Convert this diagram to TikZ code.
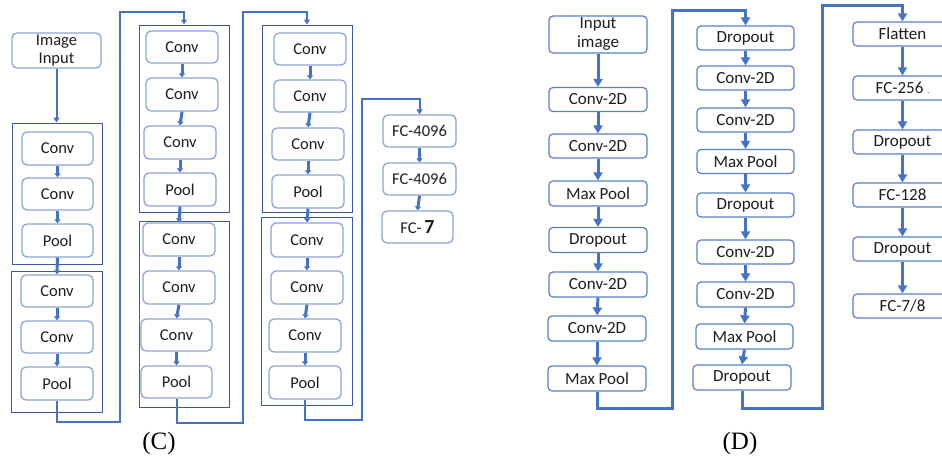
\documentclass[tikz,border=0pt]{standalone}
\usepackage{fontspec}
\setmainfont{Carlito}
\newfontfamily\labfont{Liberation Serif}
\usetikzlibrary{arrows.meta}

\definecolor{lineB}{HTML}{4472C4}
\definecolor{boxC}{HTML}{8CA5D6}
\definecolor{boxD}{HTML}{5A7FC6}
\definecolor{frameC}{HTML}{3A5A9C}
\definecolor{txt}{HTML}{1E1E1E}

\tikzset{
  sz/.style 2 args={minimum width=#1pt, minimum height=#2pt},
  cbox/.style={draw=boxC, line width=1.3pt, rounded corners=5pt, fill=white,
    text=txt, inner sep=0pt, font=\fontsize{16.5}{17.5}\selectfont, align=center},
  dbox/.style={draw=boxD, line width=1.2pt, rounded corners=4pt, fill=white,
    text=txt, inner sep=0pt, font=\fontsize{17}{19}\selectfont, align=center},
  frame/.style={draw=frameC, line width=1pt, inner sep=0pt},
  flowC/.style={draw=lineB, line width=3pt, -{Triangle[width=6pt,length=4pt]}},
  routeC/.style={draw=lineB, line width=2pt, -{Triangle[width=6pt,length=5pt]}},
  flowD/.style={draw=lineB, line width=3pt, -{Triangle[width=9pt,length=8pt]}},
  routeD/.style={draw=lineB, line width=3pt, -{Triangle[width=9pt,length=8pt]}},
  caption/.style={text=black, font=\labfont\fontsize{25}{27}\selectfont}
}

\begin{document}
\begin{tikzpicture}[x=1pt, y=-1pt]
\useasboundingbox (0,0) rectangle (942,461);
\clip (0,0) rectangle (942,461);
\fill[white] (0,0) rectangle (942,461);

% ---------------- (C): VGG-style network ----------------
\node[cbox, sz={89}{35}] (img) at (56.5,50.5) {Image\\Input};

% block frames
\node[frame, sz={90}{141}] (k1) at (57,193.5) {};
\node[frame, sz={91}{141}] (k2) at (56.5,341.5) {};
\node[frame, sz={90}{187}] (k3) at (184,118.5) {};
\node[frame, sz={90}{186}] (k4) at (184,314) {};
\node[frame, sz={90}{187}] (k5) at (307,118.5) {};
\node[frame, sz={91}{188}] (k6) at (306.5,311) {};

% block 1
\node[cbox, sz={71}{33}] (c1a) at (57.5,148.5) {Conv};
\node[cbox, sz={71}{32}] (c1b) at (57.5,194) {Conv};
\node[cbox, sz={71}{33}] (c1c) at (57.5,240.5) {Pool};
% block 2
\node[cbox, sz={72}{32}] (c2a) at (57,291) {Conv};
\node[cbox, sz={72}{32}] (c2b) at (57,337) {Conv};
\node[cbox, sz={72}{33}] (c2c) at (57,383.5) {Pool};
% block 3
\node[cbox, sz={72}{32}] (c3a) at (182,47) {Conv};
\node[cbox, sz={72}{33}] (c3b) at (182,94.5) {Conv};
\node[cbox, sz={72}{33}] (c3c) at (180,142.5) {Conv};
\node[cbox, sz={72}{33}] (c3d) at (180,189.5) {Pool};
% block 4
\node[cbox, sz={72}{33}] (c4a) at (179,239.5) {Conv};
\node[cbox, sz={72}{33}] (c4b) at (179,287.5) {Conv};
\node[cbox, sz={71}{32}] (c4c) at (176.5,335) {Conv};
\node[cbox, sz={71}{32}] (c4d) at (176.5,382) {Pool};
% block 5
\node[cbox, sz={72}{32}] (c5a) at (310,49) {Conv};
\node[cbox, sz={72}{32}] (c5b) at (310,96) {Conv};
\node[cbox, sz={72}{32}] (c5c) at (308,144) {Conv};
\node[cbox, sz={72}{33}] (c5d) at (308,191.5) {Pool};
% block 6
\node[cbox, sz={72}{34}] (c6a) at (307,240) {Conv};
\node[cbox, sz={72}{33}] (c6b) at (307,287.5) {Conv};
\node[cbox, sz={72}{33}] (c6c) at (305,335.5) {Conv};
\node[cbox, sz={72}{33}] (c6d) at (305,382.5) {Pool};
% classifier
\node[cbox, sz={73}{32}] (fc1) at (419.5,131) {FC-4096};
\node[cbox, sz={73}{32}] (fc2) at (419.5,179) {FC-4096};
\node[cbox, sz={71}{32}] (fc3) at (417.5,227) {FC-\,{\fontsize{20}{20}\selectfont\bfseries 7}};

% connectors inside the blocks
\draw[routeC] (img.south) -- (img.south |- k1.north);
\foreach \a/\b in {c1a/c1b, c1b/c1c, c1c/c2a, c2a/c2b, c2b/c2c,
                   c3a/c3b, c3b/c3c, c3c/c3d, c3d/c4a, c4a/c4b, c4b/c4c, c4c/c4d,
                   c5a/c5b, c5b/c5c, c5c/c5d, c5d/c6a, c6a/c6b, c6b/c6c, c6c/c6d,
                   fc1/fc2, fc2/fc3}
  \draw[flowC] (\a.south) -- (\b.north);

% routing between columns
\coordinate (r1) at (120,422);
\coordinate (r2) at (120,12);
\coordinate (r3) at (243,423);
\coordinate (r4) at (243,12);
\coordinate (r5) at (362,420);
\coordinate (r6) at (362,99);
\draw[routeC] (c2c.south) |- (r1) -- (r2) -| (k3.north);
\draw[routeC] (c4d.south) |- (r3) -- (r4) -| (k5.north);
\draw[routeC] (c6d.south) |- (r5) -- (r6) -| (fc1.north);

\node[caption] (capC) at (159,443) {(C)};

% ---------------- (D): CNN with dropout ----------------
\node[dbox, sz={98}{37}] (din) at (598,34.5) {Input\\image};
\node[dbox, sz={98}{24}] (d1) at (598,99.5) {Conv-2D};
\node[dbox, sz={98}{24}] (d2) at (598,146) {Conv-2D};
\node[dbox, sz={98}{25}] (d3) at (598,193.5) {Max Pool};
\node[dbox, sz={98}{25}] (d4) at (598,240) {Dropout};
\node[dbox, sz={98}{25}] (d5) at (598,284.5) {Conv-2D};
\node[dbox, sz={98}{25}] (d6) at (597,328.5) {Conv-2D};
\node[dbox, sz={98}{25}] (d7) at (597,378.5) {Max Pool};

\node[dbox, sz={97}{24}] (e1) at (745.5,38) {Dropout};
\node[dbox, sz={97}{24}] (e2) at (745.5,78) {Conv-2D};
\node[dbox, sz={97}{24}] (e3) at (745.5,120) {Conv-2D};
\node[dbox, sz={97}{24}] (e4) at (745.5,161.5) {Max Pool};
\node[dbox, sz={97}{24}] (e5) at (745.5,205) {Dropout};
\node[dbox, sz={97}{24}] (e6) at (745.5,252) {Conv-2D};
\node[dbox, sz={97}{25}] (e7) at (745.5,294.5) {Conv-2D};
\node[dbox, sz={97}{25}] (e8) at (744.5,336.5) {Max Pool};
\node[dbox, sz={98}{25}] (e9) at (742,377.5) {Dropout};

\node[dbox, sz={99}{24}] (f1) at (902.5,34) {Flatten};
\node[dbox, sz={99}{24}] (f2) at (902.5,88) {FC-256 {\fontsize{8}{8}\selectfont .}};
\node[dbox, sz={99}{24}] (f3) at (902.5,142) {Dropout};
\node[dbox, sz={99}{24}] (f4) at (902.5,195) {FC-128};
\node[dbox, sz={99}{24}] (f5) at (902.5,249) {Dropout};
\node[dbox, sz={99}{24}] (f6) at (902.5,306) {FC-7/8};

\foreach \a/\b in {din/d1, d1/d2, d2/d3, d3/d4, d4/d5, d5/d6, d6/d7,
                   e1/e2, e2/e3, e3/e4, e4/e5, e5/e6, e6/e7, e7/e8, e8/e9,
                   f1/f2, f2/f3, f3/f4, f4/f5, f5/f6}
  \draw[flowD] (\a.south) -- (\b.north);

\coordinate (q1) at (672,408);
\coordinate (q2) at (672,10);
\coordinate (q3) at (822,408);
\coordinate (q4) at (822,5);
\draw[routeD] (d7.south) |- (q1) -- (q2) -| (e1.north);
\draw[routeD] (e9.south) |- (q3) -- (q4) -| (f1.north);

\node[caption] (capD) at (740,443) {(D)};
\end{tikzpicture}
\end{document}
